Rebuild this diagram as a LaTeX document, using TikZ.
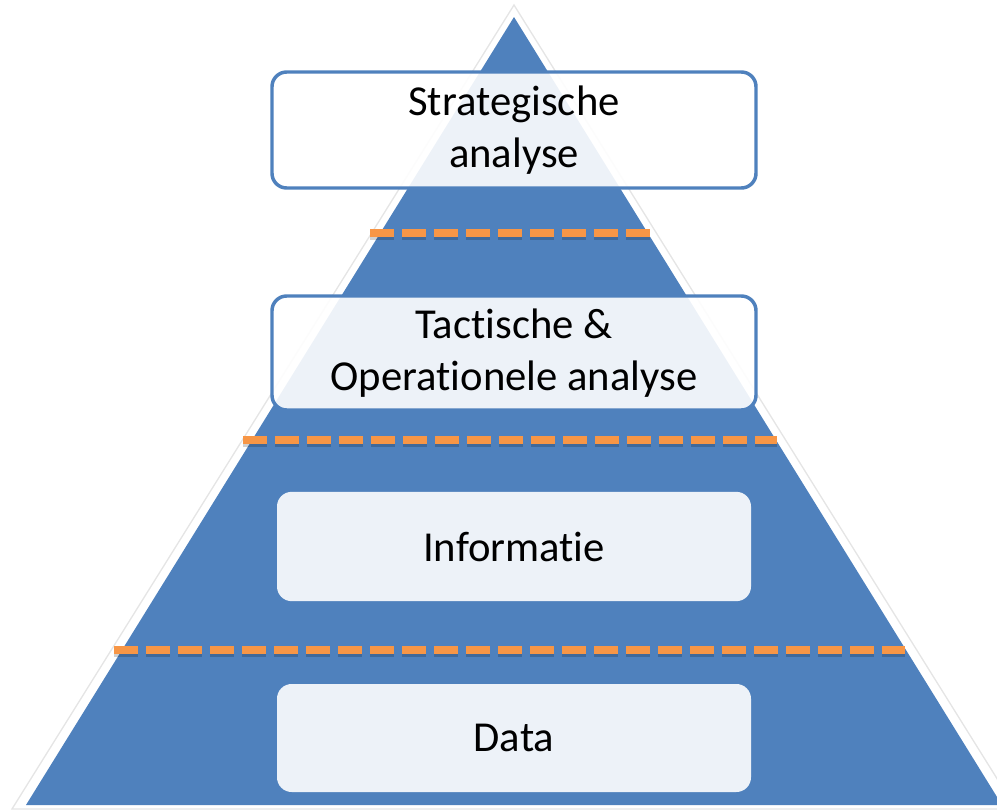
\documentclass[tikz,border=0pt]{standalone}
\usepackage{fontspec}
\setmainfont{Carlito}[Ligatures=NoCommon]
\usetikzlibrary{positioning}
\definecolor{pBlue}{HTML}{4F81BD}
\definecolor{pOrange}{HTML}{F79646}
\tikzset{
    layer/.style={rectangle, rounded corners=11pt, fill=white, fill opacity=0.9, text opacity=1,
        align=center, inner sep=0pt, font=\fontsize{32}{38.5}\selectfont},
    framed/.style={layer, draw=pBlue, line width=2.6pt, draw opacity=1},
    cut/.style={pOrange, line width=6pt, dash pattern=on 18pt off 6pt},
    cut shadow/.style={black, opacity=0.18, line width=6pt, dash pattern=on 18pt off 6pt}
}

\begin{document}
\begin{tikzpicture}[x=0.75pt,y=-0.75pt]
\useasboundingbox (0,0) rectangle (997,810);
% pyramid
\draw[black!10, line width=1pt] (514,5) -- (1016,809) -- (12,809) -- cycle;
\fill[pBlue] (514,17) -- (1002,805) -- (26,805) -- cycle;
% dashed borders between the layers
\foreach \y/\a/\b in {233/370/650, 440/243/777, 650/114/905}{
  \draw[cut shadow] (\a,\y+3) -- (\b,\y+3);
  \draw[cut] (\a,\y) -- (\b,\y);
}
% layers
\node[framed, minimum width=363pt, minimum height=87pt] (strat) at (514,130) {Strategische\\analyse};
\node[framed, minimum width=363pt, minimum height=85.5pt] (tact) at (514,353) {Tactische \&\\Operationele analyse};
\node[layer, minimum width=355.5pt, minimum height=82pt] (info) at (514,546.5) {Informatie};
\node[layer, minimum width=355.5pt, minimum height=81pt] (data) at (514,738) {Data};
\end{tikzpicture}
\end{document}
